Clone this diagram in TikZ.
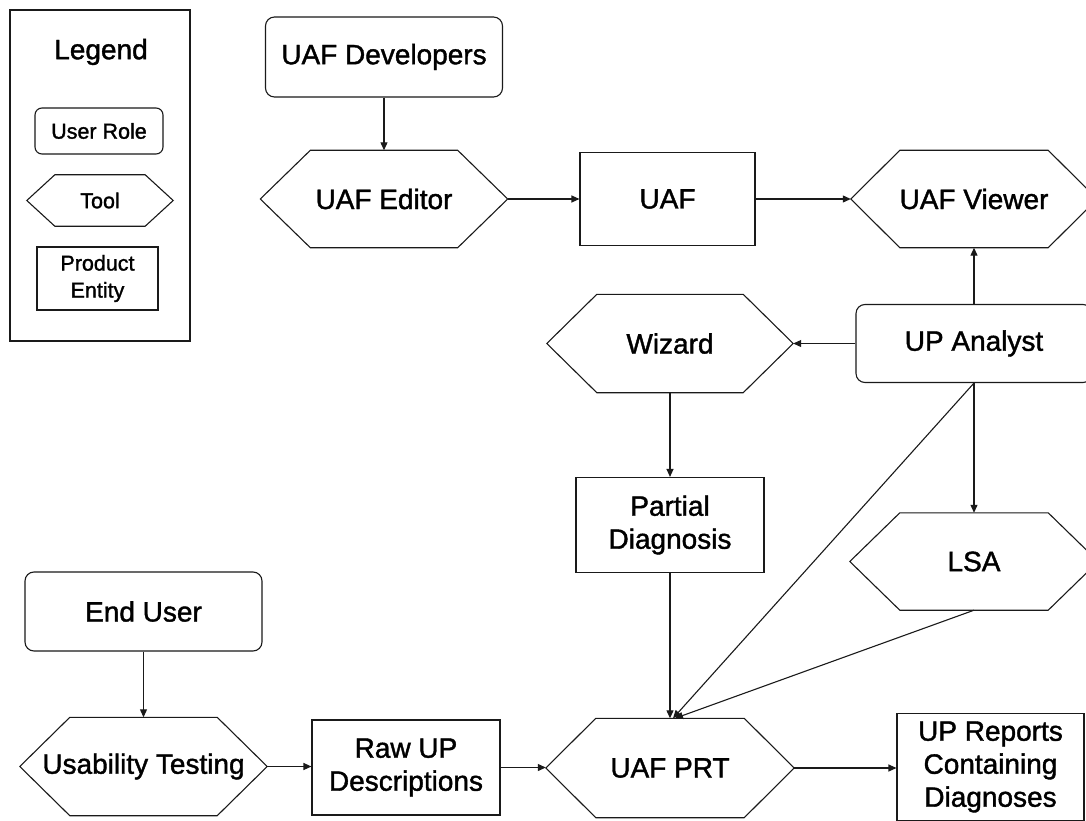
\documentclass[tikz,border=0pt]{standalone}
\usepackage{fontspec}
\setmainfont{Liberation Sans}[FakeBold=1.4]
\usetikzlibrary{arrows.meta}

\definecolor{ln}{HTML}{1A1A1A}

% outline of a "tool" node: flat top and bottom, pointed left and right ends
\newcommand\hexframe[2]{%
  \draw[edge] (#1.west) -- ([xshift=#2]#1.north west) -- ([xshift=-#2]#1.north east)
    -- (#1.east) -- ([xshift=-#2]#1.south east) -- ([xshift=#2]#1.south west) -- cycle;}

\tikzset{
  edge/.style={draw=ln, line width=1.1pt, line join=miter},
  lbl/.style={inner sep=0pt, align=center, font=\fontsize{28}{33}\selectfont},
  small/.style={inner sep=0pt, align=center, font=\fontsize{21.5}{27}\selectfont},
  role/.style={edge, rounded corners=9pt},
  entity/.style={edge},
  flow/.style={draw=ln, line width=1.1pt, -{Triangle[length=8pt,width=7pt]}},
}

\begin{document}
\begin{tikzpicture}[x=1pt,y=-1pt]
\path[use as bounding box] (0,0) rectangle (1086,821);
\clip (0,0) rectangle (1086,821);
\fill[white] (0,0) rectangle (1086,821);

% legend
\node[edge, minimum width=180pt, minimum height=331pt] (legend) at (100,175.5) {};
\node[lbl] (legtitle) at (101,52) {Legend};
\node[small, role, rounded corners=7pt, minimum width=128pt, minimum height=46pt] (lrole) at (99,131) {User Role};
\node[small, minimum width=146pt, minimum height=51pt] (ltool) at (100,200.5) {Tool};
\hexframe{ltool}{28pt}
\node[small, entity, minimum width=121pt, minimum height=63pt] (lprod) at (97.5,278.5) {Product\\Entity};

% user roles
\node[lbl, role, minimum width=237pt, minimum height=80pt] (dev) at (384,57) {UAF Developers};
\node[lbl, role, minimum width=236pt, minimum height=78pt] (ua) at (974,343.5) {UP Analyst};
\node[lbl, role, minimum width=237pt, minimum height=79pt] (eu) at (143.5,611.5) {End User};

% tools
\node[lbl, minimum width=247pt, minimum height=97pt] (ed) at (384,199) {UAF Editor};
\node[lbl, minimum width=246pt, minimum height=97pt] (vw) at (974,199) {UAF Viewer};
\node[lbl, minimum width=246pt, minimum height=98pt] (wz) at (670,343.5) {Wizard};
\node[lbl, minimum width=248pt, minimum height=97pt] (lsa) at (974,561.5) {LSA};
\node[lbl, minimum width=247pt, minimum height=98pt] (ut) at (143.5,766.5) {Usability Testing};
\node[lbl, minimum width=248pt, minimum height=99pt] (prt) at (670,768) {UAF PRT};
\hexframe{ed}{50pt}
\hexframe{vw}{49pt}
\hexframe{wz}{50pt}
\hexframe{lsa}{50pt}
\hexframe{ut}{50pt}
\hexframe{prt}{50pt}

% product entities
\node[lbl, entity, minimum width=175pt, minimum height=93pt] (uaf) at (667.5,199) {UAF};
\node[lbl, entity, minimum width=188pt, minimum height=95pt] (pd) at (670,525) {Partial\\Diagnosis};
\node[lbl, entity, minimum width=188pt, minimum height=95pt] (raw) at (406,767.5) {Raw UP\\Descriptions};
\node[lbl, entity, minimum width=187pt, minimum height=107pt] (rep) at (990.5,767) {UP Reports\\Containing\\Diagnoses};

% connectors
\draw[flow] (dev.south) -- (ed.north);
\draw[flow] (ed.east) -- (uaf.west);
\draw[flow] (uaf.east) -- (vw.west);
\draw[flow] (ua.north) -- (vw.south);
\draw[flow] (ua.west) -- (ua.west -| wz.east);
\draw[flow] (wz.south) -- (pd.north);
\draw[flow] (ua.south) -- (lsa.north);
\draw[flow] (pd.south) -- (prt.north);
\draw[flow] (ua.south) -- ([xshift=3pt]prt.north);
\draw[flow] (lsa.south) -- ([xshift=5pt]prt.north);
\draw[flow] (eu.south) -- (ut.north);
\draw[flow] (ut.east) -- (ut.east -| raw.west);
\draw[flow] (raw.east) -- (raw.east -| prt.west);
\draw[flow] (prt.east) -- (prt.east -| rep.west);
\end{tikzpicture}
\end{document}
